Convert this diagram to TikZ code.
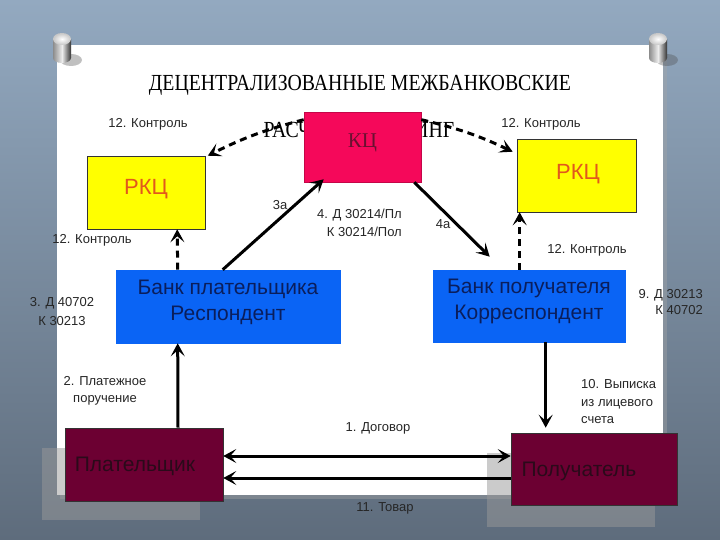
\documentclass[tikz,border=0pt]{standalone}
\usepackage{fontspec}
\setmainfont{Liberation Sans}
\newfontfamily\serifT{Liberation Serif}
\usetikzlibrary{arrows.meta}
\definecolor{bgtop}{HTML}{93A9C0}
\definecolor{bgbot}{HTML}{5E6C7C}
\definecolor{kcfill}{HTML}{F5085A}
\definecolor{kctext}{HTML}{6A1030}
\definecolor{rkcfill}{HTML}{FFFF00}
\definecolor{rkctext}{HTML}{E2581C}
\definecolor{bankfill}{HTML}{0A64F5}
\definecolor{banktext}{HTML}{0A1E5C}
\definecolor{clfill}{HTML}{6C0032}
\definecolor{cltext}{HTML}{2A0A1A}
\begin{document}
\begin{tikzpicture}[x=1pt,y=-1pt,
  lbl/.style={font=\fontsize{13}{18}\selectfont, inner sep=0pt, text=black!85},
  boxbase/.style={draw=black!80, line width=0.6pt, inner sep=0pt},
  kcbox/.style={boxbase, fill=kcfill, draw=kcfill!80!black, minimum width=117pt, minimum height=70pt},
  rkcbox/.style={boxbase, fill=rkcfill, minimum width=118pt, minimum height=73pt},
  bankbox/.style={boxbase, fill=bankfill, draw=bankfill, minimum height=73pt},
  clbox/.style={boxbase, fill=clfill, minimum height=72pt},
  bigtxt/.style={font=\fontsize{21}{26}\selectfont, inner sep=0pt, align=center},
  tip/.tip={Stealth[length=13pt,width=14pt,inset=6pt]},
  arr/.style={-tip, line width=3pt},
  darr/.style={arr, dash pattern=on 7pt off 5pt},
  shadowbox/.style={fill=black!40, opacity=0.5}]
\useasboundingbox (0,0) rectangle (720,540);
% background
\shade[top color=bgtop, bottom color=bgbot] (0,0) rectangle (720,540);
% board
\fill[black!35,opacity=0.4] (60,48) rectangle (667,499);
\fill[white] (57,45) rectangle (663,495);
% pins
\foreach \px in {62,658}{
  \fill[black!70,opacity=0.35] (\px+9,60) ellipse (11pt and 6pt);
  \shade[left color=black!45, right color=black!80, middle color=gray!15] (\px-9,40) rectangle (\px+9,58);
  \shade[left color=black!45, right color=black!80, middle color=gray!15] (\px,58) ellipse (9pt and 5pt);
  \shade[inner color=white, outer color=gray!45] (\px,39) ellipse (9pt and 6pt);
}
% title
\node[inner sep=0pt] (title) at (360,85) {\scalebox{0.86}[1]{\fontsize{23}{23}\serifT ДЕЦЕНТРАЛИЗОВАННЫЕ МЕЖБАНКОВСКИЕ}};
\node[inner sep=0pt] (title2) at (359,130) {\scalebox{0.86}[1]{\fontsize{23}{23}\serifT РАСЧЕТЫ. КЛИРИНГ}};
% shadows
\fill[shadowbox] (42,448) rectangle (200,520);
\fill[shadowbox] (487,453) rectangle (655,527);
% boxes
\node[kcbox] (kc) at (362.5,147) {};
\node[inner sep=0pt, font=\fontsize{21}{21}\serifT, text=kctext] (kct) at (362.5,143) {КЦ};
\node[rkcbox] (rkcL) at (146.5,192.5) {};
\node[rkcbox, minimum width=119pt] (rkcR) at (576.5,175.5) {};
\node[bankbox, minimum width=224pt] (bankP) at (228,306.5) {};
\node[bankbox, minimum width=192pt, minimum height=72pt] (bankR) at (529,306) {};
\node[clbox, minimum width=158pt, minimum height=73pt] (payer) at (144,464.5) {};
\node[clbox, minimum width=166pt] (payee) at (594,469) {};
% dashed control arrows
\draw[darr] ([yshift=-8pt]kc.north west) to[bend right=6] ([xshift=2pt]rkcL.north east);
\draw[darr] ([yshift=-8pt]kc.north east) to[bend left=6] ([xshift=-4pt,yshift=-13pt]rkcR.north west);
% box texts
\node[bigtxt, font=\fontsize{22}{22}\selectfont, text=rkctext] (rkcLt) at (146,189) {РКЦ};
\node[bigtxt, font=\fontsize{22}{22}\selectfont, text=rkctext] (rkcRt) at (578,174) {РКЦ};
\node[bigtxt, text=banktext] (bankPt) at (228,302) {Банк плательщика\\Респондент};
\node[bigtxt, text=banktext] (bankRt) at (529,301) {Банк получателя\\Корреспондент};
\node[bigtxt, text=cltext] (payert) at (135,466) {Плательщик};
\node[bigtxt, text=cltext] (payeet) at (579,471) {Получатель};
% arrows
\draw[arr] ([xshift=107pt]bankP.north west) -- ([xshift=20pt,yshift=3pt]kc.south west);
\draw[arr] ([xshift=-7pt]kc.south east) -- ([xshift=57pt,yshift=13pt]bankR.north west);
\draw[darr] ([xshift=62pt]bankP.north west) -- ([xshift=90pt]rkcL.south west);
\draw[darr] ([xshift=87pt]bankR.north west) -- ([xshift=3pt]rkcR.south west);
\draw[arr] ([xshift=34pt]payer.north) -- ([xshift=62pt]bankP.south west);
\draw[arr, shorten >=5pt] ([xshift=113pt]bankR.south west) -- ([xshift=35pt]payee.north west);
\draw[arr, tip-tip] ([yshift=8.5pt]payer.east) -- ([yshift=13pt]payee.west);
\draw[arr] ([yshift=-9pt]payee.west) -- ([yshift=-13.5pt]payer.east);
% labels
\node[lbl] (c1) at (148,124) {12. Контроль};
\node[lbl] (c2) at (541,124) {12. Контроль};
\node[lbl] (c3) at (92,240) {12. Контроль};
\node[lbl] (c4) at (587,250) {12. Контроль};
\node[lbl] (l3a) at (280,205) {3а};
\node[lbl, align=right, anchor=east] (l4) at (402,223) {4. Д 30214/Пл\\К 30214/Пол};
\node[lbl] (l4a) at (443,224) {4а};
\node[lbl, align=center, font=\fontsize{13}{19}\selectfont] (l3) at (62,312) {3. Д 40702\\К 30213};
\node[lbl, align=right, anchor=east, font=\fontsize{13}{16}\selectfont] (l9) at (703,302) {9. Д 30213\\К 40702};
\node[lbl, align=center, font=\fontsize{13}{17}\selectfont] (l2) at (105,391) {2. Платежное\\поручение};
\node[lbl, align=left, anchor=west, font=\fontsize{13}{17.5}\selectfont] (l10) at (581,402) {10. Выписка\\из лицевого\\счета};
\node[lbl] (l1) at (378,428) {1. Договор};
\node[lbl] (l11) at (385,508) {11. Товар};
\end{tikzpicture}
\end{document}
